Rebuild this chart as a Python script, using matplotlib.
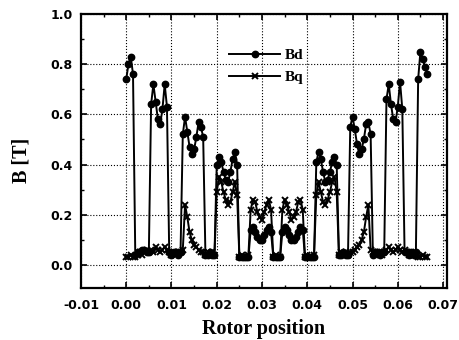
import numpy as np
import matplotlib
matplotlib.use("Agg")
import matplotlib.pyplot as plt
from matplotlib.ticker import MultipleLocator

# ------------------------------------
# DATA
# ------------------------------------
rotor_pos = np.arange(0, 0.0666, 0.0005)   # sampling grid, 134 points

bd = [
    0.74, 0.80, 0.83, 0.76, 0.04, 0.05, 0.05, 0.06, 0.06, 0.05,
    0.05, 0.64, 0.72, 0.65, 0.58, 0.56, 0.62, 0.72, 0.63, 0.05,
    0.04, 0.05, 0.05, 0.04, 0.05, 0.52, 0.59, 0.53, 0.47, 0.44,
    0.46, 0.51, 0.57, 0.55, 0.51, 0.04, 0.04, 0.05, 0.04, 0.04,
    0.40, 0.43, 0.41, 0.37, 0.34, 0.33, 0.37, 0.42, 0.45, 0.40,
    0.03, 0.03, 0.03, 0.03, 0.03, 0.14, 0.15, 0.13, 0.11, 0.10,
    0.10, 0.12, 0.14, 0.15, 0.13, 0.03, 0.03, 0.03, 0.03, 0.13,
    0.15, 0.14, 0.12, 0.10, 0.10, 0.11, 0.13, 0.15, 0.14, 0.03,
    0.03, 0.03, 0.03, 0.03, 0.41, 0.45, 0.42, 0.37, 0.33, 0.34,
    0.37, 0.41, 0.43, 0.40, 0.04, 0.04, 0.05, 0.04, 0.04, 0.55,
    0.59, 0.54, 0.48, 0.44, 0.46, 0.50, 0.56, 0.57, 0.52, 0.04,
    0.05, 0.05, 0.04, 0.05, 0.05, 0.66, 0.72, 0.64, 0.58, 0.57,
    0.63, 0.73, 0.62, 0.05, 0.05, 0.04, 0.05, 0.04, 0.05, 0.74,
    0.85, 0.82, 0.79, 0.76,
]

bq = [
    0.03, 0.03, 0.04, 0.03, 0.03, 0.04, 0.05, 0.04, 0.05, 0.06,
    0.05, 0.06, 0.05, 0.07, 0.06, 0.05, 0.06, 0.07, 0.06, 0.05,
    0.04, 0.05, 0.04, 0.05, 0.05, 0.06, 0.24, 0.19, 0.13, 0.10,
    0.08, 0.07, 0.06, 0.05, 0.05, 0.04, 0.05, 0.04, 0.05, 0.04,
    0.29, 0.35, 0.33, 0.29, 0.26, 0.24, 0.25, 0.29, 0.33, 0.28,
    0.03, 0.04, 0.03, 0.03, 0.04, 0.22, 0.26, 0.25, 0.21, 0.19,
    0.18, 0.21, 0.24, 0.26, 0.22, 0.03, 0.04, 0.03, 0.03, 0.22,
    0.26, 0.24, 0.21, 0.18, 0.19, 0.21, 0.25, 0.26, 0.22, 0.03,
    0.04, 0.03, 0.03, 0.04, 0.28, 0.33, 0.29, 0.25, 0.24, 0.26,
    0.29, 0.33, 0.35, 0.29, 0.04, 0.05, 0.04, 0.05, 0.04, 0.05,
    0.05, 0.06, 0.07, 0.08, 0.10, 0.13, 0.19, 0.24, 0.06, 0.05,
    0.04, 0.05, 0.05, 0.04, 0.05, 0.06, 0.07, 0.06, 0.05, 0.06,
    0.07, 0.06, 0.05, 0.06, 0.05, 0.04, 0.05, 0.04, 0.04, 0.03,
    0.03, 0.04, 0.03, 0.03,
]

x_ticks = [-0.01, 0.00, 0.01, 0.02, 0.03, 0.04, 0.05, 0.06, 0.07]
y_ticks = [0.0, 0.2, 0.4, 0.6, 0.8, 1.0]

# ------------------------------------
# PLOT
# ------------------------------------
fig = plt.figure(figsize=(4.6, 3.4), dpi=100)
ax = fig.add_axes([0.176, 0.153, 0.796, 0.806])

ax.plot(rotor_pos, bd, color="black", linewidth=1.4,
        marker="o", markersize=4.6, label="Bd")
ax.plot(rotor_pos, bq, color="black", linewidth=1.4,
        marker="x", markersize=5, markeredgewidth=1.4, label="Bq")

ax.set_xlim(-0.01, 0.0709)
ax.set_ylim(-0.092, 1.0)
ax.xaxis.set_minor_locator(MultipleLocator(0.005))
ax.yaxis.set_minor_locator(MultipleLocator(0.1))
ax.set_xticks(x_ticks)
ax.set_xticklabels([f"{v:.2f}" for v in x_ticks])
ax.set_yticks(y_ticks)
ax.set_yticklabels([f"{v:.1f}" for v in y_ticks])

ax.grid(True, which="major", linestyle=":", color="black", linewidth=0.8)
ax.tick_params(which="both", direction="in", top=True, right=True)
ax.tick_params(which="major", length=4, width=1.2)
ax.tick_params(which="minor", length=2, width=1.0)
ax.tick_params(axis="x", pad=8)
ax.tick_params(axis="y", pad=6)
for lab in ax.get_xticklabels() + ax.get_yticklabels():
    lab.set_fontfamily("DejaVu Sans")
    lab.set_fontweight("bold")
    lab.set_fontsize(9)
for sp in ax.spines.values():
    sp.set_linewidth(1.6)

ax.set_xlabel("Rotor position", fontfamily="Liberation Serif",
              fontweight="bold", fontsize=14.5, labelpad=5)
ax.set_ylabel("B [T]", fontfamily="Liberation Serif",
              fontweight="bold", fontsize=14.5)
ax.yaxis.set_label_coords(-0.134, 0.464)

ax.legend(loc="upper left", bbox_to_anchor=(0.368, 0.925), frameon=False,
          handlelength=3.3, handletextpad=0.3, labelspacing=0.55,
          prop={"family": "Liberation Serif", "weight": "bold", "size": 11})

fig.savefig("out.png", dpi=100)
